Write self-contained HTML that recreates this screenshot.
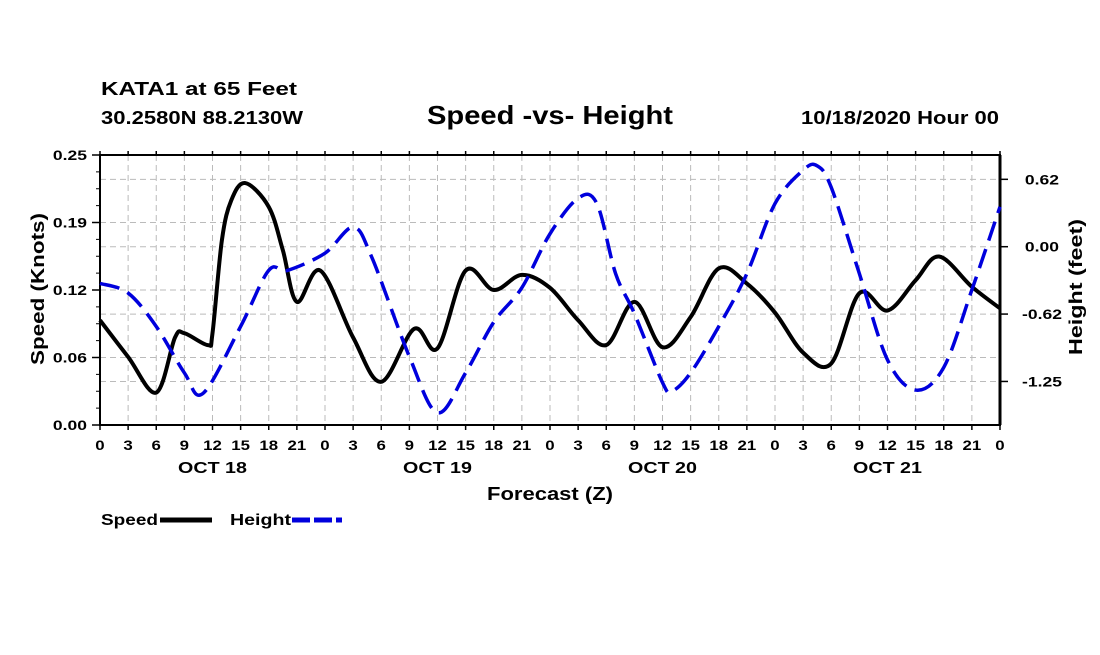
<!DOCTYPE html>
<html><head><meta charset="utf-8"><style>
html,body{margin:0;padding:0;background:#fff;}
svg text{font-family:"Liberation Sans",sans-serif;font-weight:bold;fill:#000;}
</style></head><body>
<svg id="chart" width="1100" height="650" viewBox="0 0 1100 650" xmlns="http://www.w3.org/2000/svg">
<text x="101" y="95" font-size="18" textLength="196" lengthAdjust="spacingAndGlyphs">KATA1 at 65 Feet</text>
<text x="101" y="124" font-size="18" textLength="202" lengthAdjust="spacingAndGlyphs">30.2580N 88.2130W</text>
<text x="427" y="124" font-size="26" textLength="246" lengthAdjust="spacingAndGlyphs">Speed -vs- Height</text>
<text x="801" y="124" font-size="18" textLength="198" lengthAdjust="spacingAndGlyphs">10/18/2020 Hour 00</text>
<g id="grid"></g>
<g id="axes"></g>
<g id="series"></g>
<text x="487" y="500" font-size="18" textLength="126" lengthAdjust="spacingAndGlyphs">Forecast (Z)</text>
<text transform="translate(44,365) rotate(-90)" font-size="18" textLength="152" lengthAdjust="spacingAndGlyphs">Speed (Knots)</text>
<text transform="translate(1082,355) rotate(-90)" font-size="18" textLength="136" lengthAdjust="spacingAndGlyphs">Height (feet)</text>
<g>
<text x="101" y="525" font-size="16" textLength="57" lengthAdjust="spacingAndGlyphs">Speed</text>
<line x1="160" y1="520" x2="212" y2="520" stroke="#000" stroke-width="5"/>
</g>
<g>
<text x="230" y="525" font-size="16" textLength="61" lengthAdjust="spacingAndGlyphs">Height</text>
<line x1="292" y1="520" x2="342" y2="520" stroke="#0000dd" stroke-width="5" stroke-dasharray="18,4"/>
</g>
</svg>
<script>
const speedHours=[0,3,6,8,9,11.5,12,13,14,15.5,18,19.5,21,23.5,27,30,33.5,36,39,42,45,48,51,54,57,60,63,66,69,72,75,78,81,84,87,89.5,93,96];
const speedValues=[0.097,0.063,0.030,0.081,0.085,0.074,0.085,0.171,0.208,0.224,0.202,0.162,0.114,0.143,0.081,0.040,0.089,0.071,0.143,0.125,0.139,0.127,0.097,0.074,0.114,0.072,0.100,0.145,0.131,0.104,0.067,0.057,0.122,0.106,0.134,0.156,0.128,0.108];
const heightHours=[0,3,6,9,11,15,18,20,24,27,29,33,36,39,42,45,48,51,53,55,57,60,61,63,66,69,72,75,76.5,78,81,84,87,90,93,96];
const heightValues=[-0.34,-0.43,-0.74,-1.17,-1.36,-0.74,-0.22,-0.22,-0.06,0.18,-0.10,-1.02,-1.54,-1.17,-0.70,-0.38,0.12,0.45,0.40,-0.25,-0.62,-1.26,-1.34,-1.17,-0.74,-0.25,0.40,0.71,0.75,0.55,-0.25,-1.05,-1.33,-1.12,-0.40,0.37];
const xTickLabels=["0","3","6","9","12","15","18","21","0","3","6","9","12","15","18","21","0","3","6","9","12","15","18","21","0","3","6","9","12","15","18","21","0"];
const dayLabels=["OCT 18","OCT 19","OCT 20","OCT 21"];
const leftTicks=[0,0.0625,0.125,0.1875,0.25];
const leftTickLabels=["0.00","0.06","0.12","0.19","0.25"];
const rightTicks=[0.625,0,-0.625,-1.25];
const rightTickLabels=["0.62","0.00","-0.62","-1.25"];

const L=100,R=1000,T=155,B=425;
const xs=h=>L+(h/96)*(R-L);
const yL=v=>B-(v/0.25)*(B-T);
const yR=v=>246.7-v*107.8;
const NS="http://www.w3.org/2000/svg";
function mk(tag,attrs,parent){const e=document.createElementNS(NS,tag);for(const k in attrs)e.setAttribute(k,attrs[k]);parent.appendChild(e);return e;}
function widen(t,f){const w=t.getComputedTextLength();t.setAttribute('textLength',(w*f).toFixed(1));t.setAttribute('lengthAdjust','spacingAndGlyphs');}
const grid=document.getElementById('grid'),axes=document.getElementById('axes'),series=document.getElementById('series');
for(let i=1;i<xTickLabels.length-1;i++){const gl=mk('line',{x1:xs(i*3),x2:xs(i*3),y1:T,y2:B,stroke:'#bbb','stroke-width':1,'stroke-dasharray':'6,4'},grid);

}
[...leftTicks.slice(1,-1).map(yL),...rightTicks.map(yR)].forEach(y=>{const gl=mk('line',{x1:L,x2:R,y1:y,y2:y,stroke:'#bbb','stroke-width':1,'stroke-dasharray':'6,4'},grid);

});
mk('rect',{x:L,y:T,width:R-L,height:B-T,fill:'none',stroke:'#000','stroke-width':2},axes);
mk('line',{x1:R,x2:R,y1:T,y2:B,stroke:'#000','stroke-width':3},axes);
xTickLabels.forEach((t,i)=>{const x=xs(i*3);
mk('line',{x1:x,x2:x,y1:B,y2:B+5,stroke:'#000','stroke-width':1.5},axes);
mk('line',{x1:x,x2:x,y1:T,y2:T-4,stroke:'#000','stroke-width':1.5},axes);
const tx=mk('text',{x:x,y:450,'font-size':14,'text-anchor':'middle'},axes);tx.textContent=t;


widen(tx,1.2);});
dayLabels.forEach((d,i)=>{const tx=mk('text',{x:xs(12+24*i),y:473,'font-size':16,'text-anchor':'middle'},axes);tx.textContent=d;


widen(tx,1.23);});
for(let v=0;v<=0.25001;v+=0.015625){mk('line',{x1:L-4,x2:L,y1:yL(v),y2:yL(v),stroke:'#000','stroke-width':1},axes);}
leftTicks.forEach((v,i)=>{mk('line',{x1:L-8,x2:L,y1:yL(v),y2:yL(v),stroke:'#000','stroke-width':1.5},axes);
const tx=mk('text',{x:87,y:yL(v)+5,'font-size':14,'text-anchor':'end'},axes);tx.textContent=leftTickLabels[i];


widen(tx,1.25);});
rightTicks.forEach((v,i)=>{mk('line',{x1:R,x2:R+8,y1:yR(v),y2:yR(v),stroke:'#000','stroke-width':1.5},axes);
const tx=mk('text',{x:1042,y:yR(v)+5,'font-size':14,'text-anchor':'middle'},axes);tx.textContent=rightTickLabels[i];


widen(tx,1.25);});
function spline(pts){let d=`M${pts[0][0]},${pts[0][1]}`;
for(let i=0;i<pts.length-1;i++){const p0=pts[i-1]||pts[i],p1=pts[i],p2=pts[i+1],p3=pts[i+2]||p2;
const c1=[p1[0]+(p2[0]-p0[0])/6,p1[1]+(p2[1]-p0[1])/6],c2=[p2[0]-(p3[0]-p1[0])/6,p2[1]-(p3[1]-p1[1])/6];
d+=` C${c1[0]},${c1[1]} ${c2[0]},${c2[1]} ${p2[0]},${p2[1]}`;}return d;}
const sp=mk('path',{d:spline(speedHours.map((h,i)=>[xs(h),yL(speedValues[i])])),fill:'none',stroke:'#000','stroke-width':4,'stroke-linejoin':'round'},series);


const hp=mk('path',{d:spline(heightHours.map((h,i)=>[xs(h),yR(heightValues[i])])),fill:'none',stroke:'#0000dd','stroke-width':3.5,'stroke-dasharray':'20,9'},series);


</script>
</body></html>
